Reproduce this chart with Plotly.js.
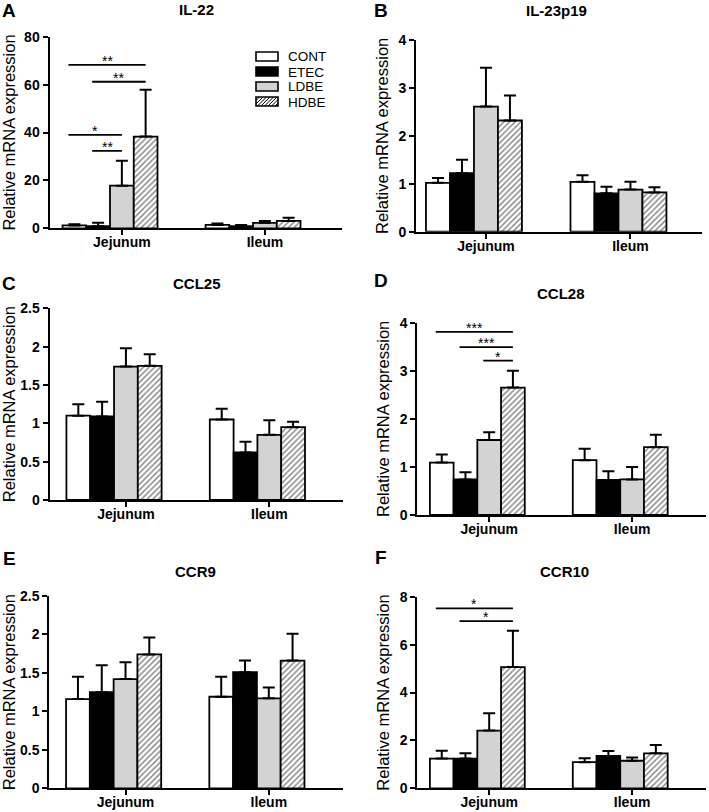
<!DOCTYPE html>
<html>
<head>
<meta charset="utf-8">
<script src="https://cdn.plot.ly/plotly-3.0.1.min.js"></script>
<style>html,body{margin:0;padding:0;background:#fff;}#chart{width:709px;height:812px;}</style>
</head>
<body>
<div id="chart"></div>
<script>
// ---- data ----
const treatments = ['CONT', 'ETEC', 'LDBE', 'HDBE'];
const sites = ['Jejunum', 'Ileum'];
const genes = ['IL-22', 'IL-23p19', 'CCL25', 'CCL28', 'CCR9', 'CCR10'];
const panelLetters = ['A', 'B', 'C', 'D', 'E', 'F'];

// mean values: rows = treatments (CONT, ETEC, LDBE, HDBE), cols = sites (Jejunum, Ileum)
const il22Mean   = [[1.2, 1.4], [0.9, 0.9], [17.8, 2.3], [38.3, 3.1]];
const il22Sem    = [[0.5, 0.6], [1.4, 0.5], [10.4, 0.8], [19.5, 1.3]];
const il23Mean   = [[1.02, 1.04], [1.22, 0.80], [2.61, 0.88], [2.32, 0.82]];
const il23Sem    = [[0.10, 0.14], [0.28, 0.14], [0.81, 0.16], [0.52, 0.11]];
const ccl25Mean  = [[1.10, 1.05], [1.09, 0.62], [1.74, 0.85], [1.75, 0.95]];
const ccl25Sem   = [[0.15, 0.14], [0.19, 0.14], [0.24, 0.19], [0.15, 0.07]];
const ccl28Mean  = [[1.09, 1.14], [0.74, 0.73], [1.56, 0.74], [2.65, 1.41]];
const ccl28Sem   = [[0.17, 0.24], [0.15, 0.18], [0.16, 0.26], [0.35, 0.26]];
const ccr9Mean   = [[1.16, 1.19], [1.25, 1.51], [1.42, 1.17], [1.74, 1.66]];
const ccr9Sem    = [[0.29, 0.26], [0.35, 0.15], [0.22, 0.14], [0.22, 0.35]];
const ccr10Mean  = [[1.24, 1.09], [1.24, 1.35], [2.41, 1.15], [5.06, 1.46]];
const ccr10Sem   = [[0.33, 0.16], [0.22, 0.21], [0.72, 0.14], [1.52, 0.35]];

// y axis maxima and tick steps
const yMax  = [80, 4, 2.5, 4, 2.5, 8];
const yStep = [20, 1, 0.5, 1, 0.5, 2];

// significance brackets (Jejunum): [from treatment, to treatment, level, label]
const sigIL22  = [[0, 3, 68.2, '**'], [1, 3, 61.2, '**'], [0, 2, 39.0, '*'], [1, 2, 32.3, '**']];
const sigIL23  = [];
const sigCCL25 = [];
const sigCCL28 = [[0, 3, 3.81, '***'], [1, 3, 3.49, '***'], [2, 3, 3.21, '*']];
const sigCCR9  = [];
const sigCCR10 = [[0, 3, 7.51, '*'], [1, 3, 6.98, '*']];

const means = [il22Mean, il23Mean, ccl25Mean, ccl28Mean, ccr9Mean, ccr10Mean];
const sems  = [il22Sem, il23Sem, ccl25Sem, ccl28Sem, ccr9Sem, ccr10Sem];
const sigs  = [sigIL22, sigIL23, sigCCL25, sigCCL28, sigCCR9, sigCCR10];

// ---- styling / layout ----
const FONT = 'Liberation Sans, Arial, Helvetica, sans-serif';
const W = 709, H = 812;
const bargap = 0.336;
const bw = (1 - bargap) / treatments.length;   // bar width in axis units
const tickShift = bw / 2;                       // Prism places the tick under the 3rd bar

// panel boxes in pixels: [x0, x1, yTop, yBottom], and x ranges
const boxes = [
  [49.5, 342, 36.7, 228.3],
  [416, 702, 40, 231.7],
  [49.5, 343, 308.3, 500],
  [417.3, 705.7, 322.7, 515],
  [49.3, 343, 596, 788.3],
  [417.3, 705.7, 596.7, 788.3]
];
const xRanges = [[-0.423, 1.622], [-0.401, 1.578], [-0.45, 1.597], [-0.42, 1.598], [-0.449, 1.601], [-0.42, 1.598]];
const letterPos = [[9, 10], [381, 10], [9, 283], [381, 280], [9, 558], [381, 557]];
const titlePos  = [[196, 9], [556, 11], [197, 283], [561, 294], [195, 571], [564, 571]];

const fillColors = {CONT: '#ffffff', ETEC: '#000000', LDBE: '#d3d3d3', HDBE: '#ffffff'};
const hatch = {shape: '/', fgcolor: '#000', bgcolor: '#fff', size: 4, solidity: 0.35, fillmode: 'overlay'};

const traces = [];
const layout = {
  width: W, height: H,
  margin: {l: 0, r: 0, t: 0, b: 0},
  paper_bgcolor: '#ffffff', plot_bgcolor: '#ffffff',
  barmode: 'group', bargap: bargap, bargroupgap: 0,
  font: {family: FONT, color: '#000'},
  showlegend: false,
  annotations: [], shapes: []
};

for (let p = 0; p < genes.length; p++) {
  const k = p + 1;
  const xa = 'x' + (k === 1 ? '' : k), ya = 'y' + (k === 1 ? '' : k);
  const xk = 'xaxis' + (k === 1 ? '' : k), yk = 'yaxis' + (k === 1 ? '' : k);
  const b = boxes[p];

  treatments.forEach((t, i) => {
    traces.push({
      type: 'bar', name: t, legendgroup: t,
      x: sites.map((s, j) => j), y: means[p][i],
      xaxis: xa, yaxis: ya,
      marker: {
        color: fillColors[t],
        line: {color: '#000', width: 1.8},
        pattern: t === 'HDBE' ? hatch : {shape: ''}
      },
      error_y: {type: 'data', symmetric: false, array: sems[p][i], arrayminus: sites.map(() => 0),
                color: '#000', thickness: 2, width: 6},
      hoverinfo: 'skip'
    });
  });

  layout[xk] = {
    domain: [b[0] / W, b[1] / W], range: xRanges[p], anchor: ya,
    tickmode: 'array', tickvals: sites.map((s, j) => j + tickShift), ticktext: sites,
    ticks: 'outside', ticklen: 5, tickwidth: 2, tickcolor: '#000', ticklabelstandoff: -5,
    showline: true, linecolor: '#000', linewidth: 2,
    showgrid: false, zeroline: false, fixedrange: true,
    tickfont: {family: FONT, size: 14, weight: 'bold', color: '#000'}
  };
  layout[yk] = {
    domain: [1 - b[3] / H, 1 - b[2] / H], range: [0, yMax[p]], anchor: xa,
    tick0: 0, dtick: yStep[p],
    ticks: 'outside', ticklen: 5, tickwidth: 2, tickcolor: '#000',
    showline: true, linecolor: '#000', linewidth: 2,
    showgrid: false, zeroline: false, fixedrange: true,
    tickfont: {family: FONT, size: 14, weight: 'bold', color: '#000'},
    title: {text: 'Relative mRNA expression', font: {family: FONT, size: 16.5, color: '#000'}, standoff: 6}
  };

  // panel letter and gene title
  layout.annotations.push({
    xref: 'paper', yref: 'paper', x: letterPos[p][0] / W, y: 1 - letterPos[p][1] / H,
    xanchor: 'center', yanchor: 'middle', showarrow: false,
    text: panelLetters[p], font: {family: FONT, size: 19, weight: 'bold', color: '#000'}
  });
  layout.annotations.push({
    xref: 'paper', yref: 'paper', x: titlePos[p][0] / W, y: 1 - titlePos[p][1] / H,
    xanchor: 'center', yanchor: 'middle', showarrow: false,
    text: genes[p], font: {family: FONT, size: 15, weight: 'bold', color: '#000'}
  });

  // significance brackets
  sigs[p].forEach(s => {
    const c0 = 0 + (s[0] - 1.5) * bw - 0.25 * bw;
    const c1 = 0 + (s[1] - 1.5) * bw;
    layout.shapes.push({
      type: 'line', xref: xa, yref: ya, x0: c0, x1: c1, y0: s[2], y1: s[2],
      line: {color: '#000', width: 1.8}
    });
    layout.annotations.push({
      xref: xa, yref: ya, x: (c0 + c1) / 2, y: s[2], xanchor: 'center', yanchor: 'bottom',
      yshift: -6, showarrow: false, text: s[3],
      font: {family: FONT, size: 14, color: '#000'}
    });
  });
}

// ---- compact legend in panel A (Prism style) ----
const legX0 = 256, legW = 22, legH = 9, legY0 = 52, legDy = 15, legTextX = 287;
const px = x => x / W, py = y => 1 - y / H;
treatments.forEach((t, i) => {
  const y0 = legY0 + i * legDy, y1 = y0 + legH, x0 = legX0, x1 = legX0 + legW;
  layout.shapes.push({
    type: 'rect', xref: 'paper', yref: 'paper', x0: px(x0), x1: px(x1), y0: py(y1), y1: py(y0),
    fillcolor: fillColors[t], line: {width: 0}
  });
  if (t === 'HDBE') {
    let d = '';
    for (let s = -legH; s < legW; s += 3.5) {
      let xa0 = x0 + s, ya0 = y1, xa1 = x0 + s + legH, ya1 = y0;
      if (xa0 < x0) { ya0 = y1 - (x0 - xa0); xa0 = x0; }
      if (xa1 > x1) { ya1 = y0 + (xa1 - x1); xa1 = x1; }
      if (xa1 <= xa0) continue;
      d += 'M' + px(xa0) + ',' + py(ya0) + 'L' + px(xa1) + ',' + py(ya1);
    }
    layout.shapes.push({type: 'path', xref: 'paper', yref: 'paper', path: d, line: {color: '#000', width: 1}});
  }
  layout.shapes.push({
    type: 'rect', xref: 'paper', yref: 'paper', x0: px(x0), x1: px(x1), y0: py(y1), y1: py(y0),
    fillcolor: 'rgba(0,0,0,0)', line: {color: '#000', width: 1.6}
  });
  layout.annotations.push({
    xref: 'paper', yref: 'paper', x: px(legTextX), y: py(y0 + legH / 2 + 0.5),
    xanchor: 'left', yanchor: 'middle', showarrow: false, text: t, borderpad: 0,
    font: {family: FONT, size: 13.5, color: '#000'}
  });
});

Plotly.newPlot('chart', traces, layout, {displayModeBar: false, staticPlot: true});
</script>
</body>
</html>
